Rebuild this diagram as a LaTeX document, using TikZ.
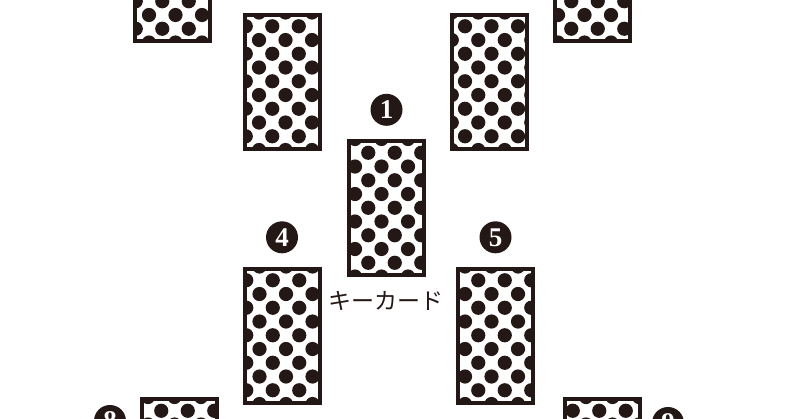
\documentclass[tikz,border=0pt]{standalone}
\usepackage{fontspec}
\newfontfamily\jpfont{Noto Sans CJK JP}
\newfontfamily\numfont{Liberation Serif}
\usetikzlibrary{positioning,calc}
\definecolor{cardink}{HTML}{231815}
\tikzset{
  card/.style={draw=cardink,line width=4pt,inner sep=0pt,
    minimum width=75pt,minimum height=134pt,
    path picture={
      \foreach \i in {0,...,10}{
        \foreach \j in {-1,...,3}{
          \pgfmathsetmacro\dotx{#1-2+26.5*\j+13.25*mod(\i,2)}
          \pgfmathsetmacro\doty{13.75*\i-2}
          \fill[cardink] ($(path picture bounding box.north west)+(\dotx pt,-\doty pt)$) circle[radius=7.1pt];
        }
      }}},
  num/.style={circle,fill=cardink,text=white,inner sep=0pt,minimum size=32pt,
    font=\numfont\bfseries\fontsize{27}{27}\selectfont},
  keytext/.style={text=cardink,inner sep=0pt,font=\jpfont\fontsize{23}{23}\selectfont}
}
\begin{document}
\begin{tikzpicture}[x=1pt,y=-1pt]
  \useasboundingbox (0,0) rectangle (800,418);
  \fill[white] (0,0) rectangle (800,418);
  % cards
  \node[card=8] (c1) at (386.5,208) {};
  \node[card=16.5] (c2) at (282,81.5) {};
  \node[card=1.75] (c3) at (489.5,81.5) {};
  \node[card=17] (c4) at (282,335.5) {};
  \node[card=9] (c5) at (495.5,335.5) {};
  \node[card=16.5] (c6) at (172,-26) {};
  \node[card=5] (c7) at (592.5,-26) {};
  \node[card=8.5] (c8) at (179,466) {};
  \node[card=23] (c9) at (602.5,466) {};
  % numbers
  \node[num,above=13pt of c1] (n1) {1};
  \node[num,above=13pt of c2] (n2) {2};
  \node[num,above=13pt of c3] (n3) {3};
  \node[num,above=13pt of c4] (n4) {4};
  \node[num,above=13pt of c5] (n5) {5};
  \node[num] (n8) at (110,421) {8};
  \node[num] (n9) at (668,423) {9};
  % label
  \node[keytext] (key) at (386,301) {キーカード};
\end{tikzpicture}
\end{document}
